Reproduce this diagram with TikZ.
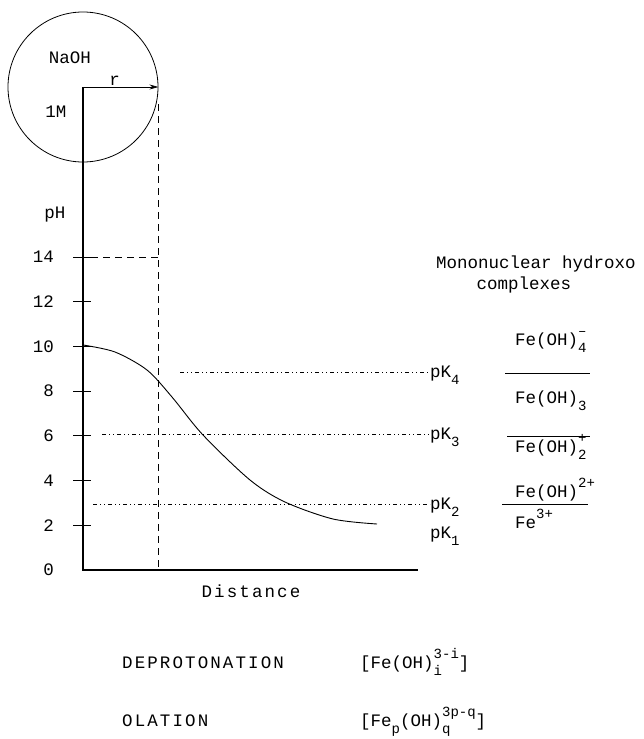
\documentclass[tikz,border=0pt]{standalone}
\usepackage{fontspec}
\setmainfont{Liberation Mono}
\usetikzlibrary{positioning,arrows.meta}

% lowered and raised indices, typewriter style
\newcommand{\subtxt}[1]{\raisebox{-0.42em}{\fontsize{14}{14}\selectfont #1}}
\newcommand{\suptxt}[1]{\raisebox{0.55em}{\fontsize{14}{14}\selectfont #1}}
\newcommand{\subsup}[2]{\rlap{\subtxt{#1}}\suptxt{#2}}

\begin{document}
\begin{tikzpicture}[
    x=1pt, y=-1pt,
    lbl/.style={font=\fontsize{17.5}{20}\selectfont, inner sep=0pt},
    wide/.style={inner sep=0pt, font=\fontsize{17.5}{20}\selectfont\addfontfeature{LetterSpace=12}},
    drop/.style={draw, circle, minimum size=150pt, inner sep=0pt, line width=0.8pt},
    axis/.style={line width=1.1pt},
    tick/.style={line width=0.9pt},
    guide/.style={line width=0.8pt, dash pattern=on 7pt off 5pt},
    pkline/.style={line width=0.6pt, dash pattern=on 4pt off 3pt on 1pt off 3pt on 1pt off 3pt},
    level/.style={line width=0.9pt},
    curve/.style={line width=0.9pt}
]
\useasboundingbox (0,0) rectangle (643,739);

% NaOH drop and its radius
\coordinate (centre) at (83,87);
\node[drop] (drop) at (centre) {};
\node[lbl] (naoh) at (70,58) {NaOH};
\node[lbl] (conc) at (56,112) {1M};
\draw[-{Stealth[length=9pt,width=5pt]}, line width=0.8pt] (centre) -- node[lbl, pos=0.42, above=1pt] (rad) {r} (drop.east);

% axes
\coordinate (origin) at (83,570);
\coordinate (xend) at (418,570);
\draw[axis] (centre) -- (origin) -- (xend);
\node[lbl] (phlab) at (55,215) {pH};
\foreach \v in {0,2,...,14}
  \node[lbl, anchor=east] (t\v) at (54,{570-22.36*\v}) {\v};
\foreach \v in {2,4,...,14}
  \draw[tick] (73,{570-22.36*\v}) -- (91,{570-22.36*\v});
\node[wide] (dist) at (251,591) {Distance};

% reach of the drop
\coordinate (rtop) at (158,104);
\coordinate (rfoot) at (158,570);
\coordinate (ph14) at (91,257);
\draw[guide] (rtop) -- (rfoot);
\draw[guide] (ph14) -- (ph14 -| rtop);

% pH profile
\draw[curve] plot[smooth] coordinates {(83,345) (115,352) (147,370) (172,397) (203,435) (250,480) (285,502) (333,519) (377,524)};

% pK levels
\node[lbl, anchor=base west] (pk4) at (430,377) {pK\subtxt{4}};
\node[lbl, anchor=base west] (pk3) at (430,439) {pK\subtxt{3}};
\node[lbl, anchor=base west] (pk2) at (430,509) {pK\subtxt{2}};
\node[lbl, anchor=base west] (pk1) at (430,538) {pK\subtxt{1}};
\coordinate (s4) at (180,372);
\coordinate (s3) at (102,434);
\coordinate (s2) at (93,504);
\draw[pkline] (s4) -- (s4 -| pk4.west);
\draw[pkline] (s3) -- (s3 -| pk3.west);
\draw[pkline] (s2) -- (s2 -| pk2.west);

% species
\node[lbl, anchor=base] (title) at (536,268) {Mononuclear hydroxo};
\node[lbl, below=5pt of title, xshift=-12pt] (title2) {complexes};
\node[lbl, anchor=base west] (fe4) at (515,345) {Fe(OH)\subsup{4}{–}};
\node[lbl, anchor=base west] (fe3) at (515,403) {Fe(OH)\subtxt{3}};
\node[lbl, anchor=base west] (fe2) at (515,452) {Fe(OH)\subsup{2}{+}};
\node[lbl, anchor=base west] (fe1) at (515,497) {Fe(OH)\suptxt{2+}};
\node[lbl, anchor=base west] (fe0) at (515,528) {Fe\suptxt{3+}};
\draw[level] (505,373) -- (590,373);
\draw[level] (507,436) -- (590,436);
\draw[level] (502,504) -- (588,504);

% hydrolysis steps
\node[wide, anchor=base west] (deprot) at (122,668) {DEPROTONATION};
\node[lbl, anchor=base west] (mono) at (360,668) {[Fe(OH)\subsup{i}{3-i}]};
\node[wide, anchor=base west] (olat) at (122,726) {OLATION};
\node[lbl, anchor=base west] (poly) at (360,726) {[Fe\subtxt{p}(OH)\subsup{q}{3p-q}]};
\end{tikzpicture}
\end{document}
